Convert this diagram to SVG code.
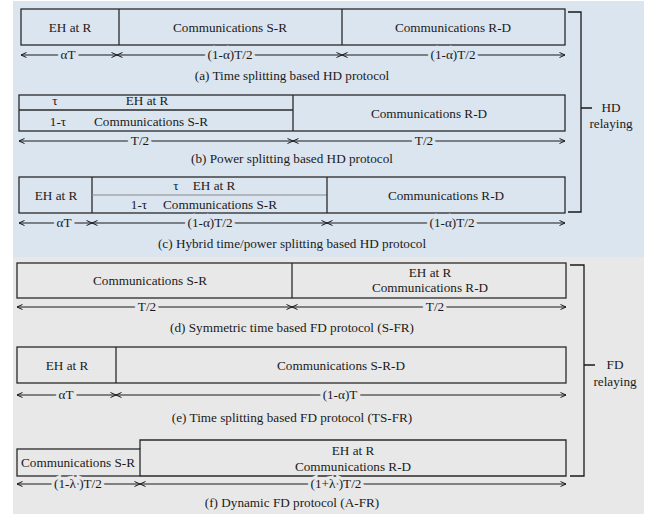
<svg xmlns="http://www.w3.org/2000/svg" width="657" height="516" viewBox="0 0 657 516">
<style>
text{font-family:"Liberation Serif","Times New Roman",serif;font-size:13.2px;fill:#1a1a1a;text-anchor:middle}
.box{fill:none;stroke:#2a2a2a;stroke-width:1.3}
.div{stroke:#2a2a2a;stroke-width:1.3}
.gdiv{stroke:#8a8a8a;stroke-width:1.2}
.dim{stroke:#1a1a1a;stroke-width:1;fill:none;marker-start:url(#ah);marker-end:url(#ah)}
.br{fill:none;stroke:#1a1a1a;stroke-width:1.3}
.hb{stroke:#dae5f0;stroke-width:6;paint-order:stroke}
.hg{stroke:#e8e8e8;stroke-width:6;paint-order:stroke}
</style>
<defs>
<marker id="ah" viewBox="0 0 7 7" refX="6.5" refY="3.5" markerWidth="7" markerHeight="7" markerUnits="userSpaceOnUse" orient="auto-start-reverse">
<path d="M1,1 L6.5,3.5 L1,6" fill="none" stroke="#1a1a1a" stroke-width="1"/>
</marker>
</defs>
<rect x="13" y="1" width="631" height="256" fill="#dae5f0"/>
<rect x="13" y="257" width="631" height="257" fill="#e8e8e8"/>

<g id="connectors">
<line class="dim" x1="21" y1="55" x2="117" y2="55"/>
<line class="dim" x1="117" y1="55" x2="342" y2="55"/>
<line class="dim" x1="342" y1="55" x2="565" y2="55"/>
<line class="dim" x1="19" y1="141" x2="293" y2="141"/>
<line class="dim" x1="293" y1="141" x2="565" y2="141"/>
<line class="dim" x1="19" y1="223" x2="92" y2="223"/>
<line class="dim" x1="92" y1="223" x2="327" y2="223"/>
<line class="dim" x1="327" y1="223" x2="565" y2="223"/>
<line class="dim" x1="17" y1="307" x2="292" y2="307"/>
<line class="dim" x1="292" y1="307" x2="566" y2="307"/>
<line class="dim" x1="17" y1="395" x2="116" y2="395"/>
<line class="dim" x1="116" y1="395" x2="566" y2="395"/>
<line class="dim" x1="17" y1="484" x2="140" y2="484"/>
<line class="dim" x1="140" y1="484" x2="566" y2="484"/>
<path class="br" d="M568,12 H581 V212 H568 M581,108 H592"/>
<path class="br" d="M570,265 H584 V476 H570 M584,365 H595"/>
</g>

<g id="protocol-a">
<rect class="box" x="21" y="9" width="544" height="36"/>
<line class="div" x1="119" y1="9" x2="119" y2="45"/>
<line class="div" x1="342" y1="9" x2="342" y2="45"/>
<text x="70" y="32">EH at R</text>
<text x="230" y="32">Communications S-R</text>
<text x="453" y="32">Communications R-D</text>
<text class="hb" x="68" y="59">αT</text>
<text class="hb" x="230" y="59">(1-α)T/2</text>
<text class="hb" x="453" y="59">(1-α)T/2</text>
<text x="292" y="80">(a) Time splitting based HD protocol</text>
</g>

<g id="protocol-b">
<rect class="box" x="19" y="95" width="546" height="36"/>
<line class="div" x1="19" y1="110" x2="293" y2="110"/>
<line class="div" x1="293" y1="95" x2="293" y2="131"/>
<text x="55" y="105">τ</text>
<text x="147" y="105">EH at R</text>
<text x="58" y="126">1-τ</text>
<text x="151" y="126">Communications S-R</text>
<text x="429" y="118">Communications R-D</text>
<text class="hb" x="140" y="145">T/2</text>
<text class="hb" x="424" y="145">T/2</text>
<text x="292" y="163">(b) Power splitting based HD protocol</text>
</g>

<g id="protocol-c">
<rect class="box" x="19" y="177" width="546" height="36"/>
<line class="div" x1="92" y1="177" x2="92" y2="213"/>
<line class="gdiv" x1="92" y1="195" x2="327" y2="195"/>
<line class="div" x1="327" y1="177" x2="327" y2="213"/>
<text x="56" y="200">EH at R</text>
<text x="176" y="190">τ</text>
<text x="214" y="190">EH at R</text>
<text x="139" y="209">1-τ</text>
<text x="220" y="209">Communications S-R</text>
<text x="446" y="200">Communications R-D</text>
<text class="hb" x="64" y="227">αT</text>
<text class="hb" x="210" y="227">(1-α)T/2</text>
<text class="hb" x="452" y="227">(1-α)T/2</text>
<text x="292" y="248">(c) Hybrid time/power splitting based HD protocol</text>
</g>

<g id="hd-label">
<text x="611" y="112">HD</text>
<text x="611" y="128">relaying</text>
</g>

<g id="protocol-d">
<rect class="box" x="17" y="263" width="549" height="35"/>
<line class="div" x1="292" y1="263" x2="292" y2="298"/>
<text x="150" y="285">Communications S-R</text>
<text x="430" y="277">EH at R</text>
<text x="430" y="292">Communications R-D</text>
<text class="hg" x="147" y="311">T/2</text>
<text class="hg" x="435" y="311">T/2</text>
<text x="292" y="332">(d) Symmetric time based FD protocol (S-FR)</text>
</g>

<g id="protocol-e">
<rect class="box" x="17" y="347" width="549" height="36"/>
<line class="div" x1="116" y1="347" x2="116" y2="383"/>
<text x="67" y="370">EH at R</text>
<text x="341" y="370">Communications S-R-D</text>
<text class="hg" x="66" y="399">αT</text>
<text class="hg" x="340" y="399">(1-α)T</text>
<text x="292" y="422">(e) Time splitting based FD protocol (TS-FR)</text>
</g>

<g id="protocol-f">
<rect class="box" x="17" y="449" width="123" height="27"/>
<path class="box" d="M140,449 V440 H566 V476 H140"/>
<text x="78" y="467">Communications S-R</text>
<text x="353" y="455">EH at R</text>
<text x="353" y="471">Communications R-D</text>
<text class="hg" x="78" y="488">(1-λ )T/2</text>
<text class="hg" x="336" y="488">(1+λ )T/2</text>
<text x="292" y="507">(f) Dynamic FD protocol (A-FR)</text>
</g>

<g id="fd-label">
<text x="615" y="369">FD</text>
<text x="615" y="386">relaying</text>
</g>
</svg>
